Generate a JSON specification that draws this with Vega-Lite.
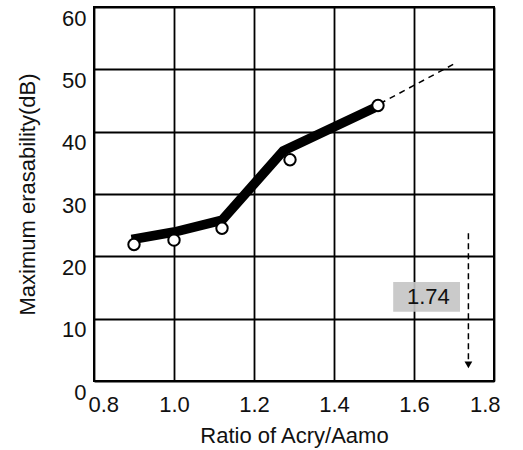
{
  "$schema": "https://vega.github.io/schema/vega-lite/v6.json",
  "autosize": "none",
  "width": 400,
  "height": 374,
  "padding": {"left": 94, "top": 7, "right": 29, "bottom": 69},
  "background": "white",
  "config": {
    "view": {"stroke": "black", "strokeWidth": 2},
    "font": "Liberation Sans",
    "axis": {
      "grid": true, "gridColor": "black", "gridWidth": 1.8, "gridOpacity": 1,
      "domain": false, "ticks": false,
      "labelFont": "Liberation Sans", "labelFontSize": 22, "labelColor": "#111",
      "titleFont": "Liberation Sans", "titleFontSize": 22, "titleFontWeight": "normal", "titleColor": "#111"
    }
  },
  "datasets": {
    "trend": [
      {"ratio": 0.894, "erasability": 22.7},
      {"ratio": 1.0, "erasability": 23.9},
      {"ratio": 1.12, "erasability": 25.8},
      {"ratio": 1.273, "erasability": 36.9},
      {"ratio": 1.507, "erasability": 44.0}
    ],
    "measured": [
      {"ratio": 0.90, "erasability": 21.9},
      {"ratio": 1.0, "erasability": 22.6},
      {"ratio": 1.12, "erasability": 24.5},
      {"ratio": 1.29, "erasability": 35.5},
      {"ratio": 1.51, "erasability": 44.2}
    ],
    "extrapolation": [
      {"ratio": 1.515, "erasability": 44.5},
      {"ratio": 1.707, "erasability": 51.1}
    ],
    "arrow": [
      {"ratio": 1.736, "erasability": 23.7},
      {"ratio": 1.736, "erasability": 3.2}
    ],
    "arrowhead": [
      {"ratio": 1.736, "erasability": 2.6}
    ],
    "label": [
      {"x1": 1.548, "x2": 1.715, "y1": 11.1, "y2": 15.9, "xc": 1.636, "yc": 13.4, "text": "1.74"}
    ]
  },
  "layer": [
    {
      "data": {"name": "label"},
      "mark": {"type": "rect", "fill": "#c4c4c4", "opacity": 0.9},
      "encoding": {
        "x": {"field": "x1", "type": "quantitative", "scale": {"domain": [0.8, 1.8]}},
        "x2": {"field": "x2"},
        "y": {"field": "y1", "type": "quantitative", "scale": {"domain": [0, 60]}},
        "y2": {"field": "y2"}
      }
    },
    {
      "data": {"name": "trend"},
      "mark": {"type": "line", "color": "black", "strokeWidth": 9.5, "strokeCap": "butt", "strokeJoin": "miter"},
      "encoding": {
        "x": {"field": "ratio", "type": "quantitative", "scale": {"domain": [0.8, 1.8]},
          "axis": {"values": [0.8, 1.0, 1.2, 1.4, 1.6, 1.8], "format": ".1f", "labelPadding": 13, "labelFlush": true, "labelFlushOffset": 6, "title": "Ratio of Acry/Aamo", "titlePadding": 10}},
        "y": {"field": "erasability", "type": "quantitative", "scale": {"domain": [0, 60]},
          "axis": {"values": [0, 10, 20, 30, 40, 50, 60], "labelPadding": 8, "labelBaseline": "top", "labelOffset": 1, "labelFlush": false, "title": "Maximum erasability(dB)", "titlePadding": 22}}
      }
    },
    {
      "data": {"name": "extrapolation"},
      "mark": {"type": "line", "color": "black", "strokeWidth": 1.5, "strokeDash": [6, 5]},
      "encoding": {
        "x": {"field": "ratio", "type": "quantitative"},
        "y": {"field": "erasability", "type": "quantitative"}
      }
    },
    {
      "data": {"name": "arrow"},
      "mark": {"type": "line", "color": "black", "strokeWidth": 1.5, "strokeDash": [6, 4]},
      "encoding": {
        "x": {"field": "ratio", "type": "quantitative"},
        "y": {"field": "erasability", "type": "quantitative"}
      }
    },
    {
      "data": {"name": "arrowhead"},
      "mark": {"type": "point", "shape": "triangle-down", "filled": true, "color": "black", "size": 60, "opacity": 1},
      "encoding": {
        "x": {"field": "ratio", "type": "quantitative"},
        "y": {"field": "erasability", "type": "quantitative"}
      }
    },
    {
      "data": {"name": "measured"},
      "mark": {"type": "point", "shape": "circle", "filled": true, "fill": "white", "stroke": "black", "strokeWidth": 2, "size": 130, "opacity": 1},
      "encoding": {
        "x": {"field": "ratio", "type": "quantitative"},
        "y": {"field": "erasability", "type": "quantitative"}
      }
    },
    {
      "data": {"name": "label"},
      "mark": {"type": "text", "fontSize": 22, "color": "#111", "font": "Liberation Sans"},
      "encoding": {
        "x": {"field": "xc", "type": "quantitative"},
        "y": {"field": "yc", "type": "quantitative"},
        "text": {"field": "text"}
      }
    }
  ]
}
